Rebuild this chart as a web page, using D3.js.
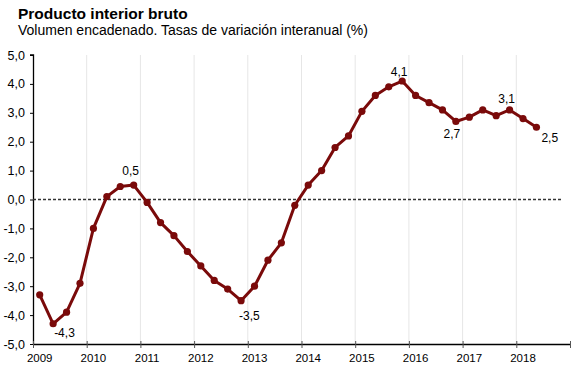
<!DOCTYPE html>
<html>
<head>
<meta charset="utf-8">
<script src="https://cdn.jsdelivr.net/npm/d3@7"></script>
<style>
  html, body { margin: 0; padding: 0; background: #fff; }
  svg { display: block; font-family: "Liberation Sans", Arial, sans-serif; }
</style>
</head>
<body>
<svg id="chart" width="575" height="370"></svg>
<script>
// ---- data ----
const years = [2009, 2010, 2011, 2012, 2013, 2014, 2015, 2016, 2017, 2018];
const quarters = [
  "2009T1","2009T2","2009T3","2009T4",
  "2010T1","2010T2","2010T3","2010T4",
  "2011T1","2011T2","2011T3","2011T4",
  "2012T1","2012T2","2012T3","2012T4",
  "2013T1","2013T2","2013T3","2013T4",
  "2014T1","2014T2","2014T3","2014T4",
  "2015T1","2015T2","2015T3","2015T4",
  "2016T1","2016T2","2016T3","2016T4",
  "2017T1","2017T2","2017T3","2017T4",
  "2018T1","2018T2"
];
const gdpGrowth = [
  -3.3, -4.3, -3.9, -2.9,
  -1.0, 0.1, 0.45, 0.5,
  -0.1, -0.8, -1.25, -1.8,
  -2.3, -2.8, -3.1, -3.5,
  -3.0, -2.1, -1.5, -0.2,
  0.5, 1.0, 1.8, 2.2,
  3.05, 3.6, 3.9, 4.1,
  3.6, 3.35, 3.1, 2.7,
  2.85, 3.1, 2.9, 3.1,
  2.8, 2.5
];
const yTicks = [5, 4, 3, 2, 1, 0, -1, -2, -3, -4, -5];
const labelledQuarters = ["2009T2", "2010T4", "2012T4", "2015T4", "2016T4", "2017T4", "2018T2"];
const titleText = "Producto interior bruto";
const subtitleText = "Volumen encadenado. Tasas de variación interanual (%)";

// ---- layout ----
const svg = d3.select("#chart");
const x = d3.scaleLinear().domain([2009, 2019]).range([33, 570]);
const y = d3.scaleLinear().domain([-5, 5]).range([344, 55]);
const qx = i => x(2009 + (i + 0.5) / 4);
const fmt = v => d3.format(".1f")(v).replace(".", ",").replace("−", "-");

// title
svg.append("text").attr("x", 18).attr("y", 19)
  .attr("font-size", 15.5).attr("font-weight", "bold").attr("fill", "#000")
  .text(titleText);
svg.append("text").attr("x", 18).attr("y", 35)
  .attr("font-size", 14).attr("fill", "#000")
  .text(subtitleText);

// vertical grid lines
svg.append("g").selectAll("line")
  .data(years.slice(1))
  .join("line")
  .attr("x1", d => x(d)).attr("x2", d => x(d))
  .attr("y1", y(5)).attr("y2", y(-5))
  .attr("stroke", "#e6e6e6").attr("stroke-width", 1);

// y axis
const yAxis = d3.axisLeft(y).tickValues(yTicks).tickSize(3).tickFormat(fmt);
const gy = svg.append("g").attr("transform", `translate(${x(2009)},0)`).call(yAxis);
gy.select(".domain").attr("stroke", "#000").attr("stroke-width", 1.3).attr("d", `M-3,${y(5)}H0.5V${y(-5)}`);
gy.selectAll(".tick line").attr("stroke", "#000");
gy.selectAll(".tick text").attr("font-size", 12.5).attr("fill", "#000")
  .attr("font-family", "Liberation Sans, Arial, sans-serif").attr("x", -8);

// x axis
const xAxis = d3.axisBottom(x).tickValues(years.concat([2019])).tickSize(4).tickFormat("");
const gx = svg.append("g").attr("transform", `translate(0,${y(-5)})`).call(xAxis);
gx.select(".domain").attr("stroke", "#000").attr("stroke-width", 1.3).attr("d", `M${x(2009)},0.5H${x(2019)}`);
gx.selectAll(".tick line").attr("stroke", "#555").attr("y1", -3);
// year labels centred under first quarter
svg.append("g").selectAll("text")
  .data(years)
  .join("text")
  .attr("x", d => x(d + 0.125))
  .attr("y", 362)
  .attr("text-anchor", "middle")
  .attr("font-size", 11.5).attr("fill", "#000")
  .text(d => d);

// zero dashed line
svg.append("line")
  .attr("x1", x(2009)).attr("x2", 563)
  .attr("y1", y(0)).attr("y2", y(0))
  .attr("stroke", "#333").attr("stroke-width", 1.3)
  .attr("stroke-dasharray", "3,2");

// series
const pts = gdpGrowth.map((v, i) => ({ q: quarters[i], v, i }));
const line = d3.line().x(d => qx(d.i)).y(d => y(d.v));
svg.append("path").datum(pts)
  .attr("d", line).attr("fill", "none")
  .attr("stroke", "#7a0a0a").attr("stroke-width", 3).attr("stroke-linejoin", "round");
svg.append("g").selectAll("circle").data(pts).join("circle")
  .attr("cx", d => qx(d.i)).attr("cy", d => y(d.v)).attr("r", 3.6)
  .attr("fill", "#7a0a0a");

// data labels
const labelOffsets = {
  "2009T2": [1, 13, "start"],
  "2010T4": [-3, -10, "middle"],
  "2012T4": [-2, 19, "start"],
  "2015T4": [-3, -5, "middle"],
  "2016T4": [-4, 17, "middle"],
  "2017T4": [-3, -7, "middle"],
  "2018T2": [5, 15, "start"]
};
svg.append("g").selectAll("text")
  .data(pts.filter(d => labelledQuarters.includes(d.q)))
  .join("text")
  .attr("x", d => qx(d.i) + labelOffsets[d.q][0])
  .attr("y", d => y(d.v) + labelOffsets[d.q][1])
  .attr("text-anchor", d => labelOffsets[d.q][2])
  .attr("font-size", 12).attr("fill", "#000")
  .text(d => fmt(d.v));
</script>
</body>
</html>
